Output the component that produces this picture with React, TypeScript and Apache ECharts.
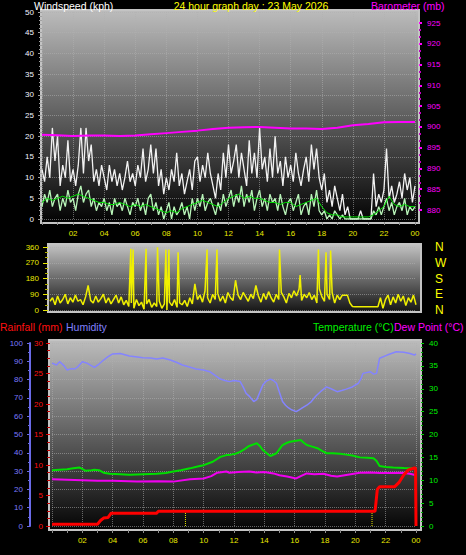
import React, { useEffect, useRef } from 'react';
import * as echarts from 'echarts';

const FONT = '"Liberation Sans", Arial, sans-serif';

// sample spacing (hours)
const STEP10 = 1 / 6;
const STEP20 = 1 / 3;

// Wind gust (kph), every 10 min
const gust = [
  12, 9, 15, 10, 22, 14,
  20, 8, 13, 10, 19, 9,
  12, 8, 13, 22, 11, 22,
  14, 18, 9, 12, 8, 13,
  10, 7, 13, 9, 12, 8,
  11, 7, 10, 14, 9, 11,
  8, 13, 10, 17, 9, 12,
  18, 11, 17, 8, 12, 6,
  10, 7, 12, 9, 16, 8,
  11, 6, 9, 12, 7, 14,
  15, 9, 13, 10, 16, 11,
  8, 5, 11, 7, 16, 10,
  18, 11, 14, 18, 10, 16,
  12, 8, 19, 11, 16, 10,
  22, 12, 15, 9, 17, 10,
  20, 11, 14, 8, 15, 10,
  13, 9, 16, 11, 8, 12,
  15, 9, 18, 12, 17, 10,
  7, 11, 4, 7, 3, 8,
  5, 2, 6, 1, 3, 0,
  0, 0, 0, 2, 0, 0,
  0, 0, 11, 3, 6, 4,
  7, 17, 5, 8, 4, 6,
  9, 5, 11, 7, 10, 4,
  8,
];

// Wind speed (kph), every 10 min
const windSpeed = [
  3, 6, 4, 7, 3, 5,
  6, 2, 5, 3, 7, 4,
  5, 2, 6, 8, 4, 6,
  7, 3, 5, 2, 4, 3,
  5, 2, 4, 1, 5, 3,
  4, 2, 5, 3, 1, 4,
  3, 5, 2, 4, 1, 5,
  6, 2, 4, 1, 3, 0,
  2, 4, 0, 3, 1, 2,
  4, 1, 3, 0, 5, 2,
  5, 3, 6, 2, 4, 5,
  3, 1, 4, 2, 6, 3,
  5, 7, 3, 6, 4, 8,
  3, 6, 4, 7, 2, 5,
  7, 3, 5, 2, 6, 4,
  5, 2, 6, 3, 1, 4,
  5, 2, 4, 6, 1, 3,
  4, 1, 6, 3, 7, 2,
  1, 2, 0, 1, 0, 2,
  1, 0, 1, 0, 0, 0,
  0, 0, 0, 0, 0, 0,
  0, 0, 2, 1, 3, 1,
  3, 5, 2, 4, 1, 3,
  4, 2, 5, 1, 3, 2,
  3,
];

// Average wind speed (kph), every 20 min
const windAvg = [
  4, 5, 4.5, 5, 5.5, 5, 5.5, 6, 5.5, 5, 4.5, 4,
  4, 3.5, 3.5, 4, 3.5, 3, 3.5, 3, 3.5, 3, 2.5, 2,
  1.5, 2, 1.5, 2.5, 3, 3.5, 4, 4.5, 4, 3.5, 3, 4,
  5, 5.5, 6, 5, 5.5, 5, 5, 4.5, 4, 4, 3.5, 4,
  4, 3, 3.5, 4, 4.5, 5, 3, 1.5, 1, 1, 0.5, 0.5,
  0.5, 0.5, 0.5, 0.5, 1, 2, 3, 5.5, 3.5, 3, 3.5, 3,
  3,
];

// Barometer (mb): [hour, value]
const barometer = [
  [0, 898.1], [1, 898.0], [2, 897.8], [3, 897.9], [4, 897.9], [5, 897.8],
  [6, 897.9], [7, 898.2], [8, 898.5], [9, 898.8], [10, 899.1], [11, 899.5],
  [12, 899.8], [13, 899.9], [14, 900.0], [15, 899.8], [16, 899.6], [17, 899.6],
  [18, 899.5], [19, 899.8], [20, 900.4], [21, 900.7], [22, 901.1], [23, 901.2], [24, 901.2],
];

// Wind direction (deg), every 10 min
const dirBase = [
  50, 70, 30, 80, 40, 60,
  90, 35, 70, 45, 85, 50,
  60, 30, 75, 140, 55, 40,
  80, 45, 65, 90, 40, 70,
  35, 60, 85, 40, 75, 30,
  55, 20, 40, 10, 60, 25,
  45, 5, 35, 60, 15, 40,
  20, 50, 10, 35, 0, 45,
  25, 60, 15, 40, 30, 55,
  20, 70, 35, 150, 60, 85,
  45, 110, 70, 40, 90, 60,
  95, 50, 80, 40, 100, 70,
  55, 170, 85, 60, 100, 75,
  50, 90, 65, 140, 80, 45,
  95, 60, 105, 70, 45, 90,
  60, 100, 75, 40, 95, 70,
  110, 80, 120, 55, 90, 70,
  100, 60, 85, 40, 120, 75,
  50, 90, 60, 100, 40, 85,
  60, 85, 85, 85, 40, 20,
  18, 18, 18, 18, 18, 18,
  18, 18, 18, 18, 70, 10,
  60, 85, 30, 75, 40, 90,
  50, 80, 25, 70, 45, 85,
  30,
];
// Short direction swings: [hour, deg]
const dirSpikes = [
  [5.3, 350], [5.45, 345], [6.3, 350], [7.05, 358], [7.6, 345], [7.8, 345],
  [8.4, 330], [10.3, 345], [10.95, 345], [15.05, 345], [16.4, 200],
  [17.6, 345], [18.1, 330], [18.4, 340],
];
const compass = ['N', 'E', 'S', 'W', 'N'];

// Bottom panel: [hour, value]
const humidity = [
  [0, 89], [0.3, 88], [0.5, 89.8], [0.8, 87.5], [1.0, 85.2], [1.3, 86], [1.5, 85.8], [1.7, 87],
  [2.0, 89.8], [2.3, 89], [2.5, 88], [2.8, 86.7], [3.1, 88.5], [3.4, 90.7], [3.7, 92.5], [4.0, 94],
  [4.5, 94.3], [5.1, 92.9], [5.5, 92.5], [6.0, 92], [6.5, 91.8], [6.9, 91.3], [7.3, 91.8], [7.8, 90.7],
  [8.2, 89.5], [8.6, 88], [9.0, 87], [9.5, 85.8], [10.0, 85.2], [10.4, 84.3], [10.8, 82], [11.1, 80.3],
  [11.4, 79.5], [11.7, 78.9], [12.0, 79.5], [12.4, 79], [12.6, 76], [12.8, 72.5], [13.0, 71], [13.3, 68],
  [13.5, 69], [13.7, 73], [13.9, 77], [14.1, 79], [14.4, 80.3], [14.6, 79.5], [14.8, 78], [15.0, 73],
  [15.2, 68], [15.4, 66], [15.6, 64.5], [15.8, 63.5], [16.1, 62.5], [16.3, 63.5], [16.5, 64.5], [16.8, 66],
  [17.1, 68], [17.4, 71], [17.7, 73.4], [18.1, 76], [18.4, 75], [18.8, 73.4], [19.1, 74], [19.4, 74.8],
  [19.8, 76], [20.2, 78], [20.4, 81], [20.5, 83.4], [21.0, 84.3], [21.2, 83], [21.4, 83.4], [21.6, 91.7],
  [22.1, 93.4], [22.7, 95.2], [23.2, 95], [23.6, 94.3], [23.9, 93.4], [24, 94],
];
const temperature = [
  [0, 12.2], [0.5, 12.3], [1.0, 12.4], [1.4, 12.6], [1.8, 12.8], [2.2, 12.1], [2.6, 12.2], [2.8, 12.3],
  [3.1, 12.2], [3.4, 11.65], [3.8, 11.4], [4.5, 11.3], [5.1, 11.2], [6.0, 11.3], [6.9, 11.4], [7.5, 11.6],
  [8.0, 11.9], [8.5, 12.2], [9.1, 12.6], [9.6, 13.0], [10.0, 13.3], [10.6, 14.05], [11.1, 15.1], [11.5, 15.5],
  [11.8, 15.6], [12.1, 15.8], [12.4, 16.2], [12.7, 16.8], [13.0, 17.5], [13.5, 18.1], [13.7, 17.5], [13.9, 16.6],
  [14.2, 15.8], [14.4, 15.3], [14.8, 15.9], [15.0, 16.8], [15.2, 17.7], [15.5, 18.2], [15.7, 18.4], [16.0, 18.6],
  [16.4, 18.8], [16.6, 18.2], [16.8, 17.7], [17.1, 17.4], [17.5, 17.0], [17.8, 16.4], [18.1, 15.9], [18.5, 15.9],
  [19.0, 15.8], [19.4, 15.6], [19.8, 15.4], [20.3, 15.0], [20.8, 14.9], [21.2, 14.8], [21.4, 14.2], [21.6, 13.1],
  [22.0, 12.9], [22.5, 12.8], [23.2, 12.7], [24.0, 12.6],
];
const dewPoint = [
  [0, 10.2], [1, 10.1], [2, 10.0], [3, 9.9], [4, 9.9], [5.6, 9.7], [7, 9.8], [8, 9.7],
  [9.1, 10.2], [10, 10.4], [10.5, 10.9], [10.9, 11.65], [11.5, 11.9], [11.7, 11.65], [12.3, 11.8], [13.0, 11.9],
  [13.5, 11.7], [14.0, 11.8], [14.6, 11.5], [15.0, 11.1], [15.5, 10.8], [16.1, 10.4], [16.4, 10.9], [16.8, 11.5],
  [17.3, 11.3], [17.9, 11.4], [18.4, 11.0], [18.8, 10.8], [19.5, 11.2], [20.3, 11.65], [21.0, 11.7], [21.6, 11.6],
  [22.3, 11.6], [23.1, 11.65], [23.6, 11.4], [24.0, 11.1],
];
const rainfall = [
  [0, 0.3], [3.0, 0.3], [3.2, 0.9], [3.4, 1.3], [3.7, 1.4], [3.9, 2.1], [6.9, 2.1], [7.0, 2.4],
  [21.3, 2.4], [21.45, 6.0], [21.6, 6.45], [22.6, 6.45], [22.9, 7.2], [23.2, 8.4], [23.5, 9.2],
  [23.9, 9.5], [23.97, 9.5], [24.0, 0],
];
// Rain-rate markers: [hour, height mm]
const rainRateMarks = [[8.8, 2.4], [21.1, 2.4]];

const hourLabel = (v: number) => (v === 0 ? '' : String(v % 24).padStart(2, '0'));

const panelGradient = (top: string, bottom: string) =>
  new echarts.graphic.LinearGradient(0, 0, 0, 1, [
    { offset: 0, color: top },
    { offset: 1, color: bottom },
  ]);

const split = { show: true, lineStyle: { color: '#b0b0b0', type: 'dotted' as const, opacity: 0.55 } };
const noLine = { show: false, onZero: false };

export default function App() {
  const ref = useRef<HTMLDivElement>(null);
  useEffect(() => {
    document.body.style.margin = '0';
    document.body.style.background = '#000';
    const chart = echarts.init(ref.current!, null, { renderer: 'svg' });

    const dirData = [...dirBase.map((v, i) => [i * STEP10, v]), ...dirSpikes].sort((a, b) => a[0] - b[0]);

    const xCommon = (gridIndex: number, offset: number, margin: number) => ({
      type: 'value',
      gridIndex,
      min: 0,
      max: 24,
      interval: 2,
      offset,
      axisLine: noLine,
      axisTick: { show: true, length: 3, lineStyle: { color: '#909090' } },
      minorTick: { show: true, splitNumber: 2, length: 3, lineStyle: { color: '#909090' } },
      axisLabel: { color: '#e8e800', fontSize: 8, fontFamily: FONT, margin, formatter: hourLabel },
      splitLine: split,
    });

    const txt = (text: string, x: number, y: number, fill: string, align = 'left') => ({
      type: 'text',
      style: { text, x, y, fill, font: `10.5px ${FONT}`, align, verticalAlign: 'middle' },
      z: 10,
    });

    const option: any = {
      animation: false,
      backgroundColor: '#000',
      graphic: [
        { type: 'rect', shape: { x: 41, y: 10, width: 378, height: 213 }, style: { fill: panelGradient('#bcbcbc', '#020202'), stroke: '#c4c4c4', lineWidth: 2 }, z: -100 },
        { type: 'rect', shape: { x: 48, y: 244, width: 373, height: 68 }, style: { fill: panelGradient('#c4c4c4', '#141414'), stroke: '#c4c4c4', lineWidth: 2 }, z: -100 },
        { type: 'rect', shape: { x: 49, y: 340, width: 372, height: 190 }, style: { fill: panelGradient('#bcbcbc', '#040404'), stroke: '#c4c4c4', lineWidth: 2 }, z: -100 },
        txt('Windspeed (kph)', 34, 6, '#ffffff'),
        txt('24 hour graph day : 23 May 2026', 251, 6, '#ffff00', 'center'),
        txt('Barometer (mb)', 371, 6, '#ff00ff'),
        txt('Rainfall (mm)', 0, 327, '#ff1010'),
        txt('Humidity', 66, 327, '#8080ff'),
        txt('Temperature (°C)', 313, 327, '#00f000'),
        txt('Dew Point (°C)', 394, 327, '#ff00ff'),
      ],
      grid: [
        { left: 42, top: 12, width: 373, height: 207 },
        { left: 42, top: 23, width: 373, height: 187 },
        { left: 50, top: 247, width: 366, height: 63 },
        { left: 52, top: 343, width: 364, height: 183 },
      ],
      xAxis: [
        xCommon(0, 3, 7),
        { type: 'value', gridIndex: 1, min: 0, max: 24, show: false, axisLine: noLine },
        { type: 'value', gridIndex: 2, min: 0, max: 24, show: false, axisLine: noLine },
        xCommon(3, 4, 6),
      ],
      yAxis: [
        {
          type: 'value', gridIndex: 0, min: 0, max: 50, interval: 5, position: 'left',
          axisLine: noLine,
          axisTick: { show: true, length: 4, lineStyle: { color: '#a0a0a0' } },
          minorTick: { show: true, splitNumber: 5, length: 3, lineStyle: { color: '#a0a0a0' } },
          axisLabel: { color: '#f4f4ff', fontSize: 8, fontFamily: FONT, margin: 8 },
          splitLine: split,
        },
        {
          type: 'value', gridIndex: 1, min: 880, max: 925, interval: 5, position: 'right', offset: 4,
          axisLine: noLine,
          axisTick: { show: true, length: 3, lineStyle: { color: '#ff00ff', width: 2 } },
          minorTick: { show: true, splitNumber: 3, length: 2, lineStyle: { color: '#c000c0', width: 2 } },
          axisLabel: { color: '#ff00ff', fontSize: 8, fontFamily: FONT, margin: 8 },
          splitLine: { show: false },
        },
        {
          type: 'value', gridIndex: 2, min: 0, max: 360, interval: 90, position: 'left', offset: 2,
          axisLine: noLine,
          axisTick: { show: true, length: 5, lineStyle: { color: '#e8e800' } },
          minorTick: { show: true, splitNumber: 3, length: 3, lineStyle: { color: '#b0b000' } },
          axisLabel: { color: '#e8e800', fontSize: 8, fontFamily: FONT, margin: 9 },
          splitLine: split,
        },
        {
          type: 'value', gridIndex: 2, min: 0, max: 360, interval: 90, position: 'right',
          axisLine: noLine, axisTick: { show: false },
          axisLabel: { color: '#ffff00', fontSize: 12, fontFamily: FONT, margin: 19, formatter: (v: number) => compass[v / 90] },
          splitLine: { show: false },
        },
        {
          type: 'value', gridIndex: 3, min: 0, max: 30, interval: 5, position: 'left', offset: 2,
          axisLine: noLine,
          axisTick: { show: true, length: 4, lineStyle: { color: '#e00000' } },
          minorTick: { show: true, splitNumber: 4, length: 3, lineStyle: { color: '#c00000' } },
          axisLabel: { color: '#ff1010', fontSize: 8, fontFamily: FONT, margin: 7 },
          splitLine: { show: false },
        },
        {
          type: 'value', gridIndex: 3, min: 0, max: 100, interval: 10, position: 'left', offset: 22,
          axisLine: { show: true, onZero: false, lineStyle: { color: '#6a6ae8', width: 2 } },
          axisTick: { show: true, length: 3, lineStyle: { color: '#6a6ae8' } },
          minorTick: { show: true, splitNumber: 2, length: 2, lineStyle: { color: '#6a6ae8' } },
          axisLabel: { color: '#7a7aff', fontSize: 8, fontFamily: FONT, margin: 7 },
          splitLine: split,
        },
        {
          type: 'value', gridIndex: 3, min: 0, max: 40, interval: 5, position: 'right', offset: 5,
          axisLine: noLine,
          axisTick: { show: true, length: 3, lineStyle: { color: '#00d000' } },
          minorTick: { show: true, splitNumber: 5, length: 2, lineStyle: { color: '#00b000' } },
          axisLabel: { color: '#00f000', fontSize: 8, fontFamily: FONT, margin: 8 },
          splitLine: { show: false },
        },
      ],
      series: [
        {
          name: 'Gust', type: 'line', xAxisIndex: 0, yAxisIndex: 0, symbol: 'none',
          lineStyle: { color: '#f2f2f2', width: 1.3 },
          data: gust.map((v, i) => [i * STEP10, v]),
        },
        {
          name: 'Wind', type: 'line', xAxisIndex: 0, yAxisIndex: 0, symbol: 'none',
          lineStyle: { color: '#b8f4b8', width: 1.3 },
          data: windSpeed.map((v, i) => [i * STEP10, v]),
        },
        {
          name: 'Average', type: 'line', xAxisIndex: 0, yAxisIndex: 0, symbol: 'none',
          lineStyle: { color: '#00e000', width: 1 },
          data: windAvg.map((v, i) => [i * STEP20, v]),
        },
        {
          name: 'Barometer', type: 'line', xAxisIndex: 1, yAxisIndex: 1, symbol: 'none',
          lineStyle: { color: '#ff00ff', width: 2 },
          data: barometer,
        },
        {
          name: 'Direction', type: 'line', xAxisIndex: 2, yAxisIndex: 2, symbol: 'none',
          lineStyle: { color: '#f0f000', width: 1.5 },
          data: dirData,
        },
        {
          name: 'Humidity', type: 'line', xAxisIndex: 3, yAxisIndex: 5, symbol: 'none',
          lineStyle: { color: '#8484ff', width: 1.5 },
          data: humidity,
        },
        {
          name: 'Temperature', type: 'line', xAxisIndex: 3, yAxisIndex: 6, symbol: 'none',
          lineStyle: { color: '#00e000', width: 2 },
          data: temperature,
        },
        {
          name: 'Dew Point', type: 'line', xAxisIndex: 3, yAxisIndex: 6, symbol: 'none',
          lineStyle: { color: '#f000f0', width: 2 },
          data: dewPoint,
        },
        ...rainRateMarks.map(([h, top], k) => ({
          name: 'RainRate' + k, type: 'line', xAxisIndex: 3, yAxisIndex: 4, symbol: 'none',
          lineStyle: { color: '#e8e800', width: 1, type: 'dotted' },
          data: [[h, 0], [h, top]],
        })),
        {
          name: 'Rainfall', type: 'line', xAxisIndex: 3, yAxisIndex: 4, symbol: 'none',
          lineStyle: { color: '#ff0000', width: 3 },
          data: rainfall,
        },
      ],
    };
    chart.setOption(option);
    return () => chart.dispose();
  }, []);
  return <div ref={ref} style={{ width: 466, height: 555, background: '#000' }} />;
}
